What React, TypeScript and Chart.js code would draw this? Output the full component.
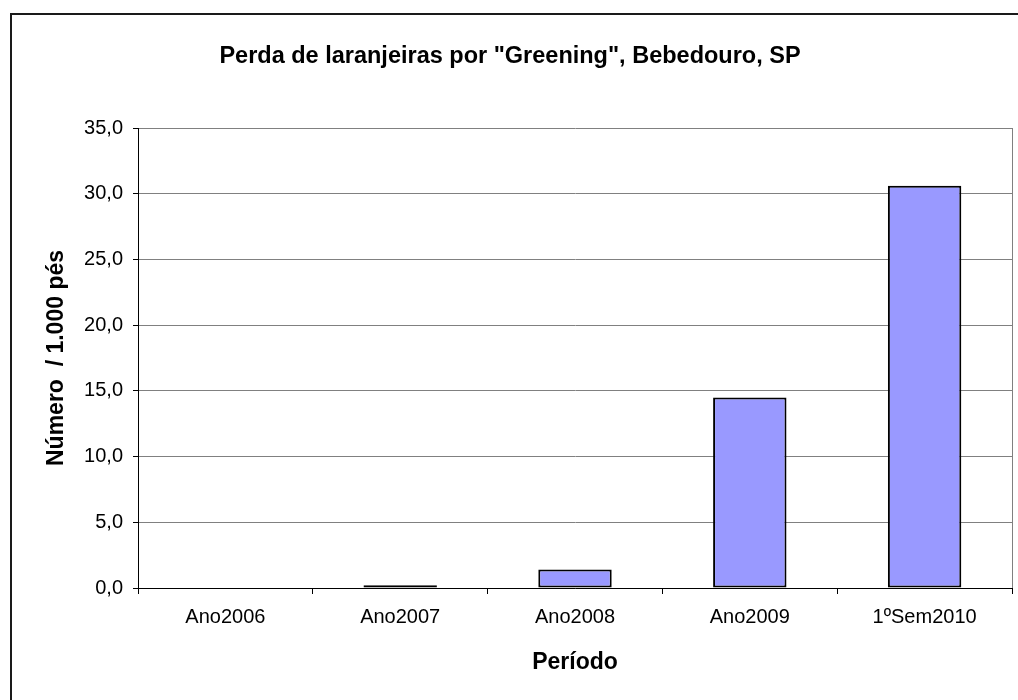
import React, { useEffect, useRef } from "react";
import { Chart, registerables } from "chart.js";

Chart.register(...registerables);

const categories: string[] = ["Ano2006", "Ano2007", "Ano2008", "Ano2009", "1ºSem2010"];
const values: number[] = [0, 0.2, 1.4, 14.5, 30.6];
const yTicks: number[] = [0, 5, 10, 15, 20, 25, 30, 35];

const chartTitle = 'Perda de laranjeiras por "Greening", Bebedouro, SP';
const yTitle = "Número  / 1.000 pés";
const xTitle = "Período";

const FONT = "'Liberation Sans', Arial, sans-serif";

const framePlugin = {
  id: "frame",
  afterDraw(chart: any) {
    const { ctx, chartArea } = chart;
    ctx.save();
    // outer border (only left and top visible)
    ctx.fillStyle = "#1a1a1a";
    ctx.fillRect(10, 13, 2, 700);
    ctx.fillRect(10, 13, 1010, 2);
    // right edge of plot area
    ctx.strokeStyle = "#808080";
    ctx.lineWidth = 1;
    ctx.beginPath();
    ctx.moveTo(Math.round(chartArea.right) + 0.5, chartArea.top);
    ctx.lineTo(Math.round(chartArea.right) + 0.5, chartArea.bottom);
    ctx.stroke();
    // title
    ctx.fillStyle = "#000";
    ctx.font = `bold 23.5px ${FONT}`;
    ctx.textAlign = "center";
    ctx.textBaseline = "alphabetic";
    ctx.fillText(chartTitle, 510, 63);
    ctx.restore();
  },
};

export default function App() {
  const ref = useRef<HTMLCanvasElement | null>(null);

  useEffect(() => {
    document.body.style.margin = "0";
    const canvas = ref.current;
    if (!canvas) return;
    const chart = new Chart(canvas, {
      type: "bar",
      data: {
        labels: categories,
        datasets: [
          {
            data: values,
            backgroundColor: "#9999FF",
            borderColor: "#000000",
            borderWidth: 2,
            borderSkipped: false,
            barPercentage: 0.42,
            categoryPercentage: 1,
          },
        ],
      },
      options: {
        responsive: false,
        animation: false,
        devicePixelRatio: 1,
        layout: { padding: { left: 0, right: 6, top: 128, bottom: 0 } },
        plugins: {
          legend: { display: false },
          title: { display: false },
          tooltip: { enabled: false },
        },
        scales: {
          x: {
            offset: true,
            grid: {
              offset: true,
              drawOnChartArea: false,
              drawTicks: true,
              tickLength: 6,
              tickColor: "#000",
            },
            border: { color: "#000", width: 1 },
            ticks: {
              color: "#000",
              font: { family: FONT, size: 20 },
              padding: 11,
              maxRotation: 0,
              autoSkip: false,
            },
            title: {
              display: true,
              text: xTitle,
              color: "#000",
              font: { family: FONT, size: 23, weight: "bold" },
              padding: { top: 0, bottom: 24 },
            },
            afterFit(scale: any) {
              scale.height = 112;
            },
          },
          y: {
            min: 0,
            max: 35,
            afterBuildTicks(scale: any) {
              scale.ticks = yTicks.map((v) => ({ value: v }));
            },
            grid: {
              color: "#808080",
              lineWidth: 1,
              drawTicks: true,
              tickLength: 5,
              tickColor: "#000",
            },
            border: { color: "#000", width: 1 },
            ticks: {
              color: "#000",
              font: { family: FONT, size: 20 },
              padding: 10,
              callback: (v: any) => Number(v).toFixed(1).replace(".", ","),
            },
            title: {
              display: true,
              text: yTitle,
              color: "#000",
              font: { family: FONT, size: 23, weight: "bold" },
              padding: { top: 43, bottom: 0 },
            },
            afterFit(scale: any) {
              scale.width = 138;
            },
          },
        },
      },
      plugins: [framePlugin],
    });
    return () => chart.destroy();
  }, []);

  return (
    <div style={{ position: "absolute", left: 0, top: 0, width: 1018, height: 700, background: "#fff" }}>
      <canvas ref={ref} width={1018} height={700} style={{ width: 1018, height: 700, display: "block" }} />
    </div>
  );
}
